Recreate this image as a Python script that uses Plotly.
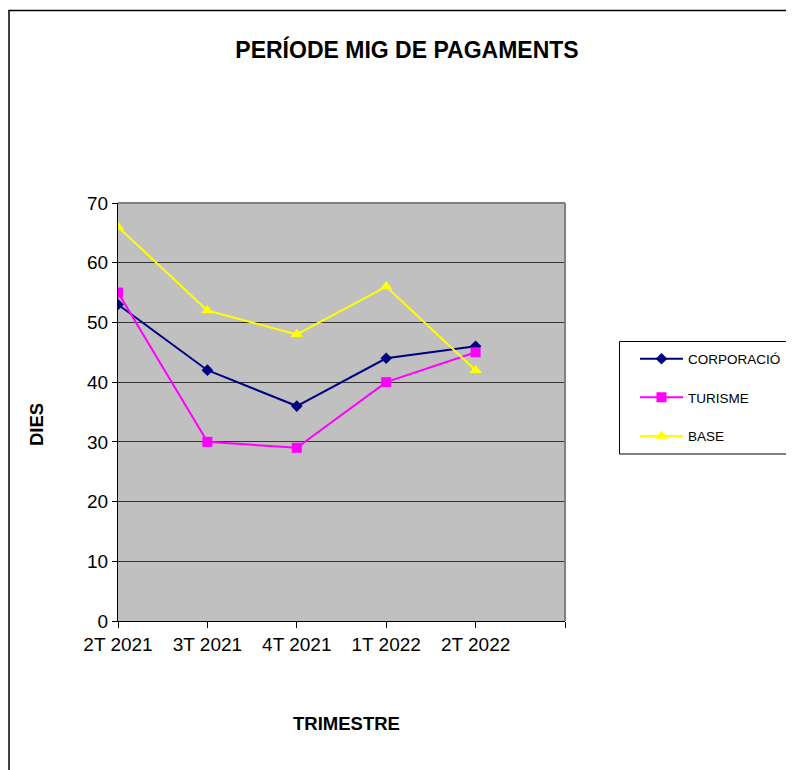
import plotly.graph_objects as go

categories = ["2T 2021", "3T 2021", "4T 2021", "1T 2022", "2T 2022"]
corporacio = [53, 42, 36, 44, 46]
turisme = [55, 30, 29, 40, 45]
base = [66, 52, 48, 56, 42]
y_ticks = [0, 10, 20, 30, 40, 50, 60, 70]

OFF = 8  # page body margin
W, H = 786, 762
L, R, T, B = 118, 565, 203, 621  # plot area in page pixels

def px(x):
    return (x - L) / (R - L)

def py(y):
    return (B - y) / (B - T)

xpos = list(range(len(categories)))

fig = go.Figure()
fig.add_trace(go.Scatter(x=xpos, y=corporacio, name="CORPORACIÓ", mode="lines+markers",
                         line=dict(color="#000080", width=2),
                         marker=dict(symbol="diamond", size=9, color="#000080"),
                         legendgroup="a"))
fig.add_trace(go.Scatter(x=xpos, y=turisme, name="TURISME", mode="lines+markers",
                         line=dict(color="#FF00FF", width=2),
                         marker=dict(symbol="square", size=10, color="#FF00FF"),
                         legendgroup="b"))
fig.add_trace(go.Scatter(x=xpos, y=base, name="BASE", mode="lines+markers",
                         line=dict(color="#FFFF00", width=2),
                         marker=dict(symbol="triangle-up", size=11, color="#FFFF00"),
                         legendgroup="c"))

font_family = "Liberation Sans, Arial, sans-serif"

fig.update_layout(
    width=W, height=H,
    margin=dict(l=L - OFF, r=W - (R - OFF), t=T - OFF, b=H - (B - OFF), pad=0,
                autoexpand=False),
    paper_bgcolor="white",
    plot_bgcolor="#C0C0C0",
    font=dict(family=font_family, color="black", size=19),
    title=dict(text="<b>PERÍODE MIG DE PAGAMENTS</b>", x=(407 - OFF) / W, xanchor="center",
               y=1 - (50 - OFF) / H, yanchor="middle", font=dict(size=23, family=font_family)),
    xaxis=dict(range=[0, 5], tickvals=list(range(len(categories) + 1)),
               ticktext=categories + [""], showgrid=False, zeroline=False,
               showline=True, linecolor="black", linewidth=1,
               ticks="outside", ticklen=6, tickcolor="black", tickwidth=1,
               tickfont=dict(size=19)),
    yaxis=dict(range=[0, 70], tickvals=y_ticks, showgrid=True, gridcolor="#333333",
               gridwidth=1, zeroline=False, showline=True, linecolor="black", linewidth=1,
               ticks="outside", ticklen=5, tickcolor="black", tickwidth=1,
               tickfont=dict(size=19)),
    legend=dict(x=px(635), xanchor="left", y=py(343.5), yanchor="top",
                font=dict(size=13.5, family=font_family), bgcolor="rgba(0,0,0,0)",
                borderwidth=0, tracegroupgap=18, itemwidth=43, traceorder="grouped"),
    showlegend=True,
)

# right/top plot border (gray)
fig.add_shape(type="line", xref="paper", yref="paper", x0=1, x1=1, y0=0, y1=1,
              line=dict(color="#808080", width=2))
fig.add_shape(type="line", xref="paper", yref="paper", x0=0, x1=1, y0=1, y1=1,
              line=dict(color="#808080", width=2))
# legend box
fig.add_shape(type="rect", xref="paper", yref="paper", x0=px(619.5), x1=px(797),
              y0=py(454), y1=py(341.5), line=dict(color="black", width=1))
# outer chart border
fig.add_shape(type="rect", xref="paper", yref="paper", x0=px(9), x1=px(820),
              y0=py(800), y1=py(10.5), line=dict(color="black", width=1.5))

fig.add_annotation(text="<b>TRIMESTRE</b>", xref="paper", yref="paper",
                   x=px(346), y=py(723), showarrow=False, xanchor="center", yanchor="middle",
                   font=dict(size=18.5, family=font_family))
fig.add_annotation(text="<b>DIES</b>", xref="paper", yref="paper",
                   x=px(36), y=py(425), showarrow=False, xanchor="center", yanchor="middle",
                   textangle=-90, font=dict(size=18.5, family=font_family))

fig.write_html("out.html")
